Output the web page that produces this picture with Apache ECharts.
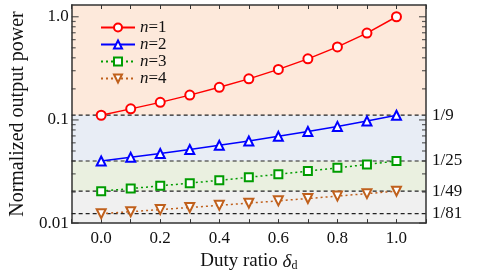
<!DOCTYPE html>
<html>
<head>
<meta charset="utf-8">
<script src="https://cdn.jsdelivr.net/npm/echarts@6/dist/echarts.min.js"></script>
<style>
    html, body {margin: 0; padding: 0; background: #fff;}
    #chart {width: 481px; height: 277px;}
</style>
</head>
<body>
<div id="chart"></div>
<script>
// duty ratio samples
const duty = [0.0, 0.1, 0.2, 0.3, 0.4, 0.5, 0.6, 0.7, 0.8, 0.9, 1.0];

// normalized output power
const power_n1 = [0.111, 0.128, 0.148, 0.174, 0.207, 0.25, 0.309, 0.391, 0.51, 0.694, 1.0];
const power_n2 = [0.040, 0.0434, 0.0473, 0.0517, 0.0567, 0.0625, 0.0693, 0.0772, 0.0865, 0.0977, 0.111];
const power_n3 = [0.0204, 0.0216, 0.0230, 0.0244, 0.0260, 0.0278, 0.0297, 0.0319, 0.0343, 0.0370, 0.040];
const power_n4 = [0.01235, 0.0129, 0.01352, 0.01417, 0.01487, 0.0156, 0.01644, 0.0173, 0.01826, 0.0193, 0.0204];

// reference levels (dashed lines + right labels)
const level_values = [0.1111, 0.04, 0.0204, 0.01235];
const level_labels = ['1/9', '1/25', '1/49', '1/81'];

// background bands between levels
const band_edges = [[0.1111, 1.3], [0.04, 0.1111], [0.0204, 0.04], [0.01, 0.0204]];
const band_colors = ['#fde9db', '#e8edf5', '#eaf0e0', '#f0f0f0'];

// log axis ticks
const y_major_ticks = [0.01, 0.1, 1];
const y_minor_ticks = [0.02, 0.03, 0.04, 0.05, 0.06, 0.07, 0.08, 0.09,
    0.2, 0.3, 0.4, 0.5, 0.6, 0.7, 0.8, 0.9];

const x_min = -0.1, x_max = 1.1;
const serif = 'Liberation Serif';
const axis_color = '#333';
const text_color = '#111';

function build_line(name, values, color, symbol, dashed, size, rotate) {
    return {
        name: name,
        type: 'line',
        data: duty.map((d, i) => [d, values[i]]),
        symbol: symbol,
        symbolSize: size,
        symbolRotate: rotate || 0,
        lineStyle: {color: color, width: 1.5, type: dashed ? [2, 3] : 'solid'},
        itemStyle: {color: color, borderColor: color, borderWidth: 1.5},
        z: 3
    };
}

// dashed horizontal reference line, label on the right outside the frame
function build_level(v, label) {
    return {
        type: 'line',
        data: [[x_min, v], [x_max, v]],
        symbol: 'none',
        silent: true,
        clip: false,
        lineStyle: {color: '#222', width: 1.2, type: [4, 3]},
        endLabel: {
            show: true, distance: 6, formatter: label,
            fontFamily: serif, fontSize: 17, color: text_color
        },
        z: 2
    };
}

// background colour bands
function build_bands() {
    return {
        type: 'custom',
        data: band_edges.map((b, i) => [x_min, b[0], b[1], i]),
        encode: {x: 0, y: [1, 2]},
        silent: true,
        z: 0,
        renderItem: function (params, api) {
            const p0 = api.coord([x_min, api.value(2)]);
            const p1 = api.coord([x_max, api.value(1)]);
            return {
                type: 'rect',
                shape: {x: p0[0], y: p0[1], width: p1[0] - p0[0], height: p1[1] - p0[1]},
                style: {fill: band_colors[api.value(3)]}
            };
        }
    };
}

// short tick marks on the inside of the left / right frame
function build_ticks(x, dir) {
    let data = [];
    y_minor_ticks.forEach(v => data.push({value: [x, v], symbolSize: [4, 1.2], symbolOffset: [2 * dir, 0]}));
    y_major_ticks.forEach(v => data.push({value: [x, v], symbolSize: [7, 1.2], symbolOffset: [3.5 * dir, 0]}));
    return {
        type: 'scatter',
        data: data,
        symbol: 'rect',
        itemStyle: {color: axis_color},
        silent: true,
        clip: false,
        z: 4
    };
}

function do_render() {
    let e = document.getElementById('chart');
    let chart = echarts.init(e, null, {renderer: 'canvas'});

    const x_label = function (v) {
        const k = Math.round(v * 10);
        if (k < 0 || k > 10 || k % 2 !== 0) return '';
        return (k / 10).toFixed(1);
    };

    let series = [build_bands()];
    level_values.forEach((v, i) => series.push(build_level(v, level_labels[i])));
    series = series.concat([
        build_line('n=1', power_n1, '#ff0000', 'emptyCircle', false, 9),
        build_line('n=2', power_n2, '#0000ff', 'emptyTriangle', false, 9),
        build_line('n=3', power_n3, '#009c00', 'emptyRect', true, 8),
        build_line('n=4', power_n4, '#c0601c', 'emptyTriangle', true, 9, 180),
        build_ticks(x_min, 1),
        build_ticks(x_max, -1)
    ]);

    const option = {
        animation: false,
        grid: {left: 69, right: 55, top: 5, bottom: 51},
        legend: {
            data: ['n=1', 'n=2', 'n=3', 'n=4'],
            orient: 'vertical',
            left: 95,
            top: 14,
            itemWidth: 34,
            itemHeight: 10,
            itemGap: 0,
            formatter: name => '{i|n}=' + name.split('=')[1],
            textStyle: {
                fontFamily: serif, fontSize: 17, color: text_color,
                rich: {i: {fontFamily: serif, fontStyle: 'italic', fontSize: 17, color: text_color}}
            }
        },
        xAxis: [{
            type: 'value', min: x_min, max: x_max, interval: 0.1,
            name: 'Duty ratio {d|δ}{s|d}',
            nameLocation: 'middle', nameGap: 26,
            nameTextStyle: {
                fontFamily: serif, fontSize: 19, color: text_color,
                rich: {
                    d: {fontFamily: serif, fontStyle: 'italic', fontSize: 19, color: text_color},
                    s: {fontFamily: serif, fontSize: 12, color: text_color, padding: [9, 0, 0, 0]}
                }
            },
            axisLine: {show: true, onZero: false, lineStyle: {color: axis_color, width: 1.5}},
            axisTick: {show: true, inside: true, length: 4, lineStyle: {color: axis_color}},
            axisLabel: {formatter: x_label, margin: 7, fontFamily: serif, fontSize: 17, color: text_color},
            splitLine: {show: false}
        }, {
            type: 'value', min: x_min, max: x_max, interval: 0.1, position: 'top',
            axisLine: {show: true, onZero: false, lineStyle: {color: axis_color, width: 1.5}},
            axisTick: {show: true, inside: true, length: 4, lineStyle: {color: axis_color}},
            axisLabel: {show: false},
            splitLine: {show: false}
        }],
        yAxis: [{
            type: 'log', logBase: 10, min: 0.01, max: 1.3,
            name: 'Normalized output power',
            nameLocation: 'middle', nameGap: 26,
            nameTextStyle: {fontFamily: serif, fontSize: 20, color: text_color},
            axisLine: {show: true, onZero: false, lineStyle: {color: axis_color, width: 1.5}},
            axisTick: {show: false},
            axisLabel: {
                margin: 3, fontFamily: serif, fontSize: 17, color: text_color,
                formatter: function (v) {
                    const p = Math.round(Math.log10(v));
                    if (Math.abs(Math.log10(v) - p) > 1e-6) return '';
                    return p >= 0 ? '1.0' : (p === -1 ? '0.1' : '0.01');
                }
            },
            splitLine: {show: false}
        }, {
            type: 'log', logBase: 10, min: 0.01, max: 1.3, position: 'right',
            axisLine: {show: true, onZero: false, lineStyle: {color: axis_color, width: 1.5}},
            axisTick: {show: false},
            axisLabel: {show: false},
            splitLine: {show: false}
        }],
        series: series
    };

    chart.setOption(option);
}

do_render();
</script>
</body>
</html>
